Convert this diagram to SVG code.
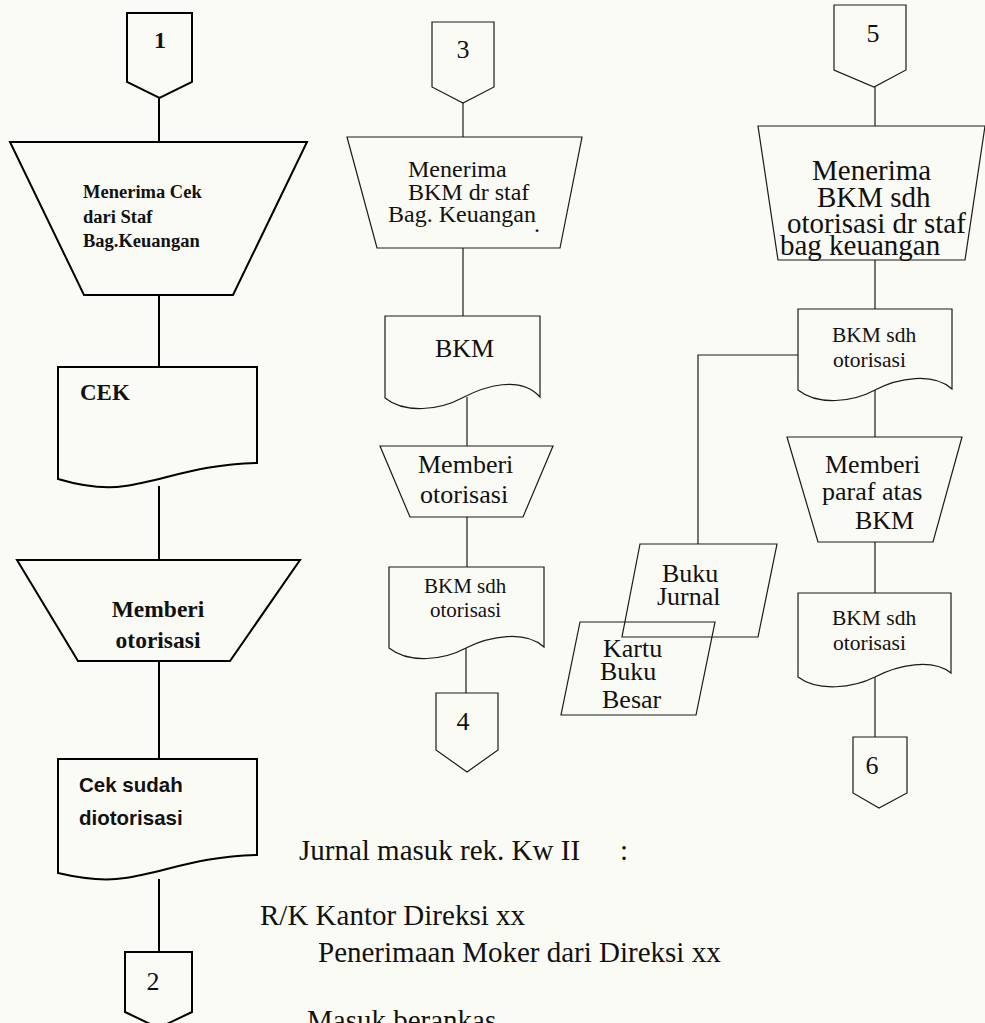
<svg xmlns="http://www.w3.org/2000/svg" width="985" height="1023" viewBox="0 0 985 1023">
  <style>
    .bg { fill: #fbfbf5; }
    .heavy { fill: none; stroke: #000; stroke-width: 2; stroke-linejoin: miter; }
    .thin { fill: none; stroke: #1a1a1a; stroke-width: 1.2; stroke-linejoin: miter; }
    .wire-heavy { fill: none; stroke: #000; stroke-width: 2; }
    .wire-thin { fill: none; stroke: #1a1a1a; stroke-width: 1.2; }
    text { font-family: "Liberation Serif", "Times New Roman", serif; fill: #111; }
    .b { font-weight: bold; }
    .sans { font-family: "Liberation Sans", Arial, sans-serif; font-weight: bold; }
    .mid { text-anchor: middle; }
  </style>

  <rect class="bg" x="0" y="0" width="985" height="1023"/>

  <!-- connectors -->
  <g id="connectors">
    <!-- column 1 -->
    <path class="wire-heavy" d="M159,98 V142"/>
    <path class="wire-heavy" d="M159,295 V367"/>
    <path class="wire-heavy" d="M159,486 V560"/>
    <path class="wire-heavy" d="M159,661 V759"/>
    <path class="wire-heavy" d="M159,879 V952"/>
    <!-- column 2 -->
    <path class="wire-thin" d="M463,103 V137"/>
    <path class="wire-thin" d="M463,248 V316"/>
    <path class="wire-thin" d="M467,397 V446"/>
    <path class="wire-thin" d="M467,517 V567"/>
    <path class="wire-thin" d="M466,648 V693"/>
    <!-- column 3 -->
    <path class="wire-thin" d="M875,87 V126"/>
    <path class="wire-thin" d="M875,260 V309"/>
    <path class="wire-thin" d="M875,390 V437"/>
    <path class="wire-thin" d="M875,542 V593"/>
    <path class="wire-thin" d="M875,677 V737"/>
    <!-- branch to the ledgers -->
    <path class="wire-thin" d="M798,355 H698 V544"/>
  </g>

  <!-- column 1 -->
  <g id="c1-offpage-1">
    <path class="heavy" d="M127,13 H192 V82 L159.5,98 L127,82 Z"/>
    <text class="b mid" x="160" y="48" font-size="24">1</text>
  </g>
  <g id="c1-receive-cheque">
    <path class="heavy" d="M10,142 H307 L233,295 H84 Z"/>
    <text class="b" x="83" y="198" font-size="18.5">Menerima Cek</text>
    <text class="b" x="83" y="223" font-size="18.5">dari Staf</text>
    <text class="b" x="83" y="247" font-size="18.5">Bag.Keuangan</text>
  </g>
  <g id="c1-cek-doc">
    <path class="heavy" d="M58,367 H257 V463 C200,464 165,480 125,486 C100,490 75,484 58,479 Z"/>
    <text class="b" x="80" y="400" font-size="23">CEK</text>
  </g>
  <g id="c1-authorize">
    <path class="heavy" d="M17,560 H300 L230,661 H78 Z"/>
    <text class="b mid" x="158" y="617" font-size="23.5">Memberi</text>
    <text class="b mid" x="158" y="648" font-size="23.5">otorisasi</text>
  </g>
  <g id="c1-cek-authorized">
    <path class="heavy" d="M58,759 H257 V855 C200,856 165,872 125,878 C100,882 75,877 58,873 Z"/>
    <text class="sans" x="79" y="792" font-size="20.5">Cek sudah</text>
    <text class="sans" x="79" y="825" font-size="20.5">diotorisasi</text>
  </g>
  <g id="c1-offpage-2">
    <path class="heavy" d="M125,952 H192 V1012 L158.5,1028 L125,1012 Z"/>
    <text class="mid" x="153" y="990" font-size="26">2</text>
  </g>

  <!-- column 2 -->
  <g id="c2-offpage-3">
    <path class="thin" d="M432,22 H494 V87 L463,103 L432,87 Z"/>
    <text class="mid" x="463" y="58" font-size="26">3</text>
  </g>
  <g id="c2-receive-bkm">
    <path class="thin" d="M347,137 H582 L560,248 H377 Z"/>
    <text x="408" y="177" font-size="24">Menerima</text>
    <text x="408" y="200" font-size="24">BKM dr staf</text>
    <text x="388" y="222" font-size="24">Bag. Keuangan</text>
    <text x="534" y="232" font-size="24">.</text>
  </g>
  <g id="c2-bkm-doc">
    <path class="thin" d="M385,316 H540 V397 C520,375 485,386 462,398 C440,410 405,414 385,398 Z"/>
    <text x="435" y="357" font-size="26">BKM</text>
  </g>
  <g id="c2-authorize">
    <path class="thin" d="M380,446 H553 L523,517 H410 Z"/>
    <text x="418" y="473" font-size="26">Memberi</text>
    <text x="420" y="503" font-size="26">otorisasi</text>
  </g>
  <g id="c2-bkm-authorized">
    <path class="thin" d="M389,567 H544 V647 C525,630 490,636 466,648 C444,660 409,664 389,648 Z"/>
    <text x="424" y="593" font-size="21">BKM sdh</text>
    <text x="430" y="617" font-size="21">otorisasi</text>
  </g>
  <g id="c2-offpage-4">
    <path class="thin" d="M436,693 H498 V750 L467,772 L436,750 Z"/>
    <text class="mid" x="463" y="730" font-size="26">4</text>
  </g>

  <!-- column 3 -->
  <g id="c3-offpage-5">
    <path class="thin" d="M834,5 H906 V70 L874,87 L834,70 Z"/>
    <text class="mid" x="873" y="42" font-size="26">5</text>
  </g>
  <g id="c3-receive-bkm">
    <path class="thin" d="M758,126 H985 L965,260 H778 Z"/>
    <text x="812" y="180" font-size="29">Menerima</text>
    <text x="817" y="207" font-size="29">BKM sdh</text>
    <text x="787" y="233" font-size="29">otorisasi dr staf</text>
    <text x="780" y="255" font-size="29">bag keuangan</text>
  </g>
  <g id="c3-bkm-authorized">
    <path class="thin" d="M798,309 H952 V389 C933,372 898,378 875,390 C853,402 818,406 798,390 Z"/>
    <text x="832" y="342" font-size="21.5">BKM sdh</text>
    <text x="833" y="367" font-size="21.5">otorisasi</text>
  </g>
  <g id="c3-journal">
    <path class="thin" d="M640,544 H777 L758,637 H622 Z"/>
    <text x="662" y="582" font-size="26">Buku</text>
    <text x="657" y="605" font-size="26">Jurnal</text>
  </g>
  <g id="c3-ledger-card">
    <path class="thin" d="M580,622 H715 L696,715 H561 Z"/>
    <text x="603" y="657" font-size="26">Kartu</text>
    <text x="600" y="680" font-size="26">Buku</text>
    <text x="602" y="708" font-size="26">Besar</text>
  </g>
  <g id="c3-initial">
    <path class="thin" d="M787,437 H962 L933,542 H818 Z"/>
    <text x="825" y="473" font-size="26">Memberi</text>
    <text x="822" y="500" font-size="26">paraf atas</text>
    <text x="855" y="529" font-size="26">BKM</text>
  </g>
  <g id="c3-bkm-initialled">
    <path class="thin" d="M798,593 H951 V673 C932,658 898,665 875,677 C853,688 818,692 798,677 Z"/>
    <text x="832" y="625" font-size="21.5">BKM sdh</text>
    <text x="833" y="650" font-size="21.5">otorisasi</text>
  </g>
  <g id="c3-offpage-6">
    <path class="thin" d="M853,737 H907 V793 L879,808 L853,793 Z"/>
    <text class="mid" x="872" y="774" font-size="26">6</text>
  </g>

  <!-- journal entry notes -->
  <g id="journal-notes">
    <text x="299" y="860" font-size="29">Jurnal masuk rek. Kw II</text>
    <text x="620" y="860" font-size="29">:</text>
    <text x="260" y="925" font-size="29">R/K Kantor Direksi xx</text>
    <text x="318" y="962" font-size="29">Penerimaan Moker dari Direksi xx</text>
    <text x="307" y="1030" font-size="29">Masuk berankas</text>
  </g>
</svg>
